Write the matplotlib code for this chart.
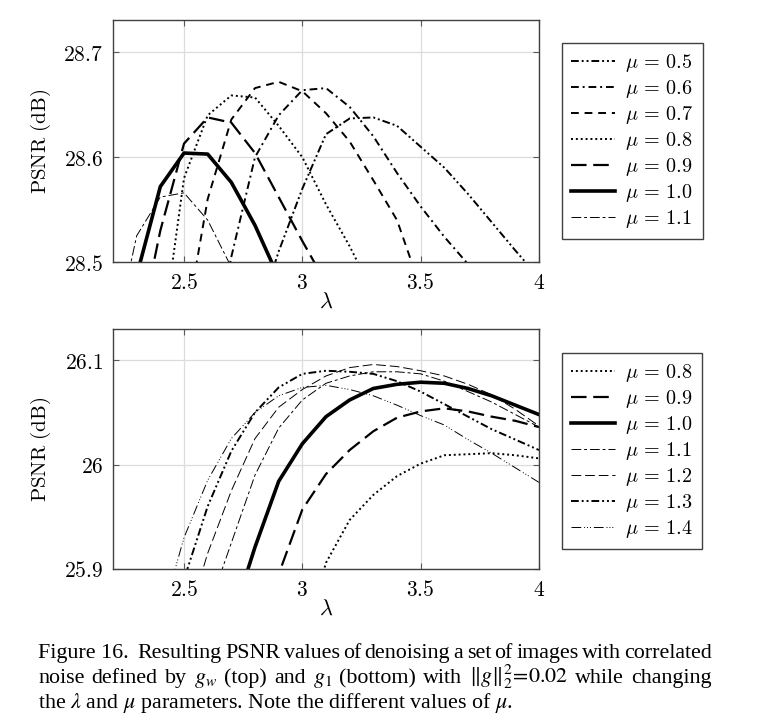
import matplotlib
matplotlib.use("Agg")
import matplotlib.pyplot as plt

plt.rcParams['mathtext.fontset'] = 'cm'
plt.rcParams['font.family'] = ['DejaVu Serif']

# top panel: noise g_w
top_x05 = [2.8, 2.9, 3.0, 3.1, 3.2, 3.3, 3.4, 3.5, 3.6, 3.7, 3.8, 3.9, 4.0]
top_y05 = [28.44, 28.51, 28.57, 28.622, 28.637, 28.638, 28.63, 28.61, 28.59, 28.565, 28.538, 28.511, 28.485]
top_x06 = [2.6, 2.7, 2.8, 2.9, 3.0, 3.1, 3.2, 3.3, 3.4, 3.5, 3.6, 3.7, 3.8]
top_y06 = [28.39, 28.505, 28.6, 28.64, 28.664, 28.666, 28.648, 28.62, 28.585, 28.553, 28.524, 28.498, 28.47]
top_x07 = [2.5, 2.6, 2.7, 2.8, 2.9, 3.0, 3.1, 3.2, 3.3, 3.4, 3.5]
top_y07 = [28.43, 28.56, 28.636, 28.666, 28.672, 28.663, 28.642, 28.615, 28.578, 28.54, 28.475]
top_x08 = [2.4, 2.5, 2.6, 2.7, 2.8, 2.9, 3.0, 3.1, 3.2, 3.3]
top_y08 = [28.415, 28.58, 28.64, 28.659, 28.657, 28.63, 28.6, 28.555, 28.515, 28.47]
top_x09 = [2.3, 2.4, 2.5, 2.6, 2.7, 2.8, 2.9, 3.0, 3.1]
top_y09 = [28.42, 28.53, 28.613, 28.638, 28.633, 28.604, 28.562, 28.52, 28.48]
top_x10 = [2.3, 2.4, 2.5, 2.6, 2.7, 2.8, 2.9]
top_y10 = [28.487, 28.572, 28.604, 28.603, 28.576, 28.535, 28.485]
top_x11 = [2.2, 2.3, 2.4, 2.5, 2.6, 2.7]
top_y11 = [28.42, 28.525, 28.562, 28.566, 28.54, 28.495]

# bottom panel: noise g_1
bot_x08 = [3.0, 3.1, 3.2, 3.3, 3.4, 3.5, 3.6, 3.7, 3.8, 3.9, 4.0]
bot_y08 = [25.83, 25.906, 25.947, 25.971, 25.989, 26.001, 26.009, 26.01, 26.011, 26.009, 26.006]
bot_x09 = [2.8, 2.9, 3.0, 3.1, 3.2, 3.3, 3.4, 3.5, 3.6, 3.7, 3.8, 3.9, 4.0]
bot_y09 = [25.8, 25.895, 25.957, 25.991, 26.014, 26.032, 26.045, 26.051, 26.054, 26.051, 26.046, 26.042, 26.036]
bot_x10 = [2.7, 2.8, 2.9, 3.0, 3.1, 3.2, 3.3, 3.4, 3.5, 3.6, 3.7, 3.8, 3.9, 4.0]
bot_y10 = [25.85, 25.921, 25.984, 26.02, 26.046, 26.062, 26.073, 26.077, 26.079, 26.078, 26.073, 26.066, 26.057, 26.048]
bot_x11 = [2.6, 2.7, 2.8, 2.9, 3.0, 3.1, 3.2, 3.3, 3.4, 3.5, 3.6, 3.7, 3.8, 3.9, 4.0]
bot_y11 = [25.86, 25.925, 25.99, 26.035, 26.062, 26.078, 26.085, 26.089, 26.089, 26.087, 26.08, 26.07, 26.06, 26.048, 26.036]
bot_x12 = [2.5, 2.6, 2.7, 2.8, 2.9, 3.0, 3.1, 3.2, 3.3, 3.4, 3.5, 3.6, 3.7, 3.8, 3.9, 4.0]
bot_y12 = [25.84, 25.915, 25.975, 26.025, 26.055, 26.072, 26.085, 26.093, 26.096, 26.094, 26.09, 26.085, 26.077, 26.067, 26.053, 26.037]
bot_x13 = [2.4, 2.5, 2.6, 2.7, 2.8, 2.9, 3.0, 3.1, 3.2, 3.3, 3.4, 3.5, 3.6, 3.7, 3.8, 3.9, 4.0]
bot_y13 = [25.8, 25.89, 25.96, 26.013, 26.05, 26.074, 26.087, 26.09, 26.089, 26.087, 26.08, 26.07, 26.058, 26.046, 26.034, 26.024, 26.014]
bot_x14 = [2.4, 2.5, 2.6, 2.7, 2.8, 2.9, 3.0, 3.1, 3.2, 3.3, 3.4, 3.5, 3.6, 3.7, 3.8, 3.9, 4.0]
bot_y14 = [25.85, 25.93, 25.985, 26.025, 26.05, 26.066, 26.074, 26.076, 26.072, 26.066, 26.057, 26.047, 26.038, 26.024, 26.011, 25.997, 25.983]

x_ticks = [2.5, 3, 3.5, 4]
x_tick_labels = ['$2.5$', '$3$', '$3.5$', '$4$']
top_y_ticks = [28.5, 28.6, 28.7]
top_y_tick_labels = ['$28.5$', '$28.6$', '$28.7$']
bot_y_ticks = [25.9, 26.0, 26.1]
bot_y_tick_labels = ['$25.9$', '$26$', '$26.1$']

# line styles per mu (pgfplots-like)
styles = {
    0.5: dict(lw=1.4, ls=(0, (4, 1.5, 1, 1.5, 1, 1.5))),
    0.6: dict(lw=1.4, ls=(0, (4, 2, 1, 2))),
    0.7: dict(lw=1.4, ls=(0, (4, 3))),
    0.8: dict(lw=1.4, ls=(0, (1, 1.5))),
    0.9: dict(lw=1.6, ls=(0, (7, 3))),
    1.0: dict(lw=2.6, ls='-'),
    1.1: dict(lw=0.7, ls=(0, (10, 3, 3, 3))),
    1.2: dict(lw=0.7, ls=(0, (10, 4))),
    1.3: dict(lw=1.4, ls=(0, (4, 1.5, 1, 1.5, 1, 1.5))),
    1.4: dict(lw=0.7, ls=(0, (10, 3, 1, 2, 1, 2, 1, 3))),
}


def style_axes(ax, yticks, ylabels, ylim):
    ax.set_xlim(2.2, 4.0)
    ax.set_ylim(*ylim)
    ax.set_xticks(x_ticks, labels=x_tick_labels)
    ax.set_yticks(yticks, labels=ylabels)
    ax.grid(True, color='#dcdcdc', lw=0.9)
    ax.set_axisbelow(True)
    ax.tick_params(direction='in', top=True, right=True, length=4, width=0.8,
                   color='0.35', labelsize=15.5, pad=7)
    for s in ax.spines.values():
        s.set_color('0.25')
        s.set_linewidth(1.0)
    ax.set_ylabel(r'$\mathrm{PSNR\ (dB)}$', fontsize=15)
    ax.yaxis.set_label_coords(-0.14, 0.5)
    ax.set_xlabel(r'$\lambda$', fontsize=16)
    ax.xaxis.set_label_coords(0.5, -0.12)


fig = plt.figure(figsize=(7.68, 7.2), dpi=100)
ax1 = fig.add_axes([113 / 768, 1 - 262 / 720, 426 / 768, 242 / 720])
ax2 = fig.add_axes([113 / 768, 1 - 569 / 720, 426 / 768, 240 / 720])

top = [(0.5, top_x05, top_y05), (0.6, top_x06, top_y06), (0.7, top_x07, top_y07),
       (0.8, top_x08, top_y08), (0.9, top_x09, top_y09), (1.0, top_x10, top_y10),
       (1.1, top_x11, top_y11)]
for mu, xs, ys in top:
    ax1.plot(xs, ys, color='black', label=rf'$\mu\,=\,{mu:.1f}$', **styles[mu])

bot = [(0.8, bot_x08, bot_y08), (0.9, bot_x09, bot_y09), (1.0, bot_x10, bot_y10),
       (1.1, bot_x11, bot_y11), (1.2, bot_x12, bot_y12), (1.3, bot_x13, bot_y13),
       (1.4, bot_x14, bot_y14)]
for mu, xs, ys in bot:
    ax2.plot(xs, ys, color='black', label=rf'$\mu\,=\,{mu:.1f}$', **styles[mu])

style_axes(ax1, top_y_ticks, top_y_tick_labels, (28.5, 28.731))
style_axes(ax2, bot_y_ticks, bot_y_tick_labels, (25.9, 26.13))

for ax, anchor in [(ax1, (562 / 768, 1 - 43 / 720)), (ax2, (562 / 768, 1 - 353 / 720))]:
    leg = ax.legend(loc='upper left', bbox_to_anchor=anchor, bbox_transform=fig.transFigure,
                    fontsize=14.5, frameon=True, fancybox=False, framealpha=1,
                    handlelength=2.2, labelspacing=0.2, borderpad=0.45, handletextpad=0.5,
                    borderaxespad=0)
    leg.get_frame().set_edgecolor('0.25')
    leg.get_frame().set_linewidth(1.0)

# caption, justified by hand (last line left as is)
cap_kw = dict(family='Liberation Serif', math_fontfamily='stix', fontsize=15.8, va='baseline')
cap_words = [
    ['Figure 16. ', 'Resulting', 'PSNR', 'values', 'of', 'denoising', 'a', 'set', 'of',
     'images', 'with', 'correlated'],
    ['noise', 'defined', 'by', '$g_w$', '(top)', 'and', '$g_1$', '(bottom)', 'with',
     r'$\Vert{g}\Vert_2^2\!=\!0.02$', 'while', 'changing'],
]
cap_last = r'the $\lambda$ and $\mu$ parameters. Note the different values of $\mu$.'
cap_base = [658, 683, 708]
x_left, x_right = 38, 712
renderer = fig.canvas.get_renderer()
for words, yb in zip(cap_words, cap_base):
    y = 1 - yb / 720
    texts = [fig.text(0, y, w, **cap_kw) for w in words]
    widths = [t.get_window_extent(renderer).width for t in texts]
    gap = (x_right - x_left - sum(widths)) / (len(words) - 1)
    xpos = x_left
    for t, w in zip(texts, widths):
        t.set_x(xpos / 768)
        xpos += w + gap
fig.text(x_left / 768, 1 - cap_base[2] / 720, cap_last, **cap_kw)

fig.savefig('out.png', dpi=100)
